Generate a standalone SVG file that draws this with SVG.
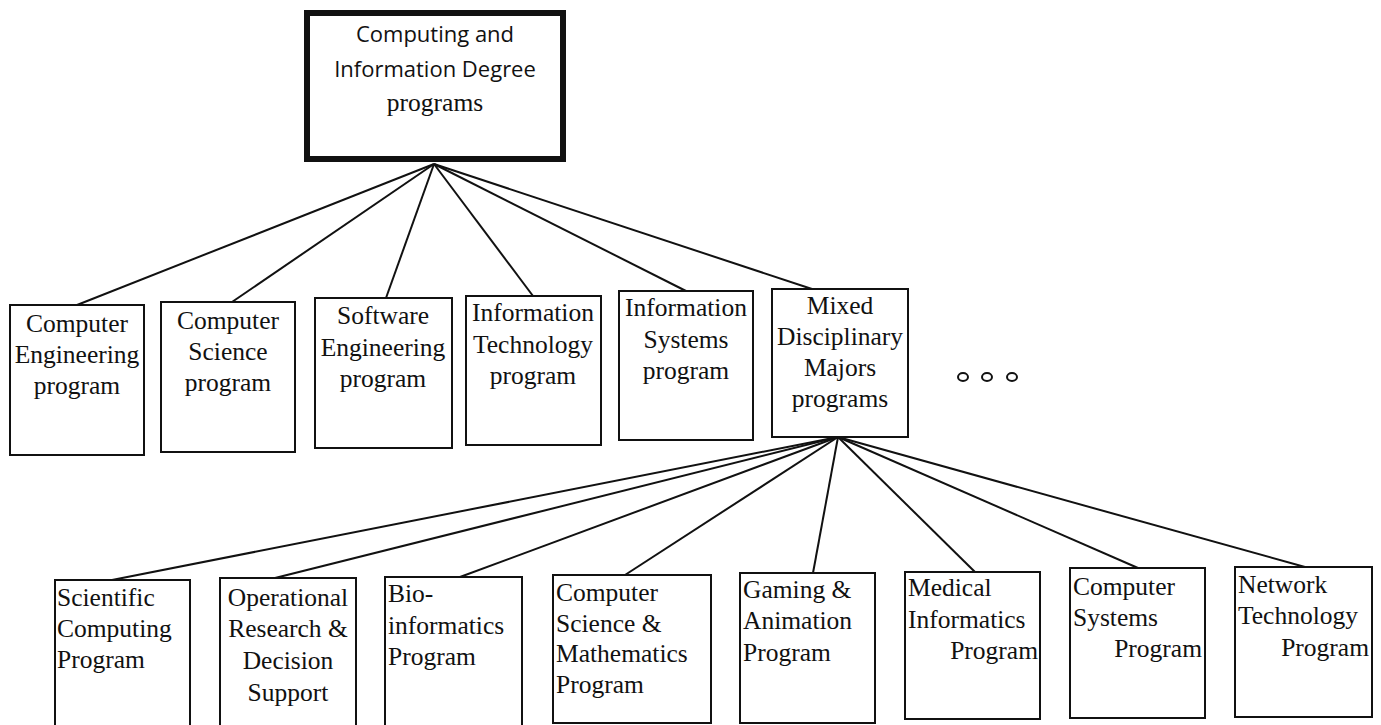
<svg xmlns="http://www.w3.org/2000/svg" width="1381" height="725" viewBox="0 0 1381 725">
<style>
.box{fill:#fff;stroke:#111;stroke-width:2}
.top{fill:#fff;stroke:#111;stroke-width:6}
.t{font-family:"Liberation Serif",serif;font-size:25.5px;fill:#111}
.c{text-anchor:middle}
.r{text-anchor:end}
.s{font-family:"Open Sans","Liberation Sans",sans-serif;font-size:22px;fill:#111;text-anchor:middle}
.ln{stroke:#111;stroke-width:2;fill:none}
.dot{fill:#fff;stroke:#111;stroke-width:2}
</style>
<g id="connectors">
<line class="ln" x1="434" y1="164" x2="77" y2="305"/>
<line class="ln" x1="434" y1="164" x2="232" y2="302"/>
<line class="ln" x1="434" y1="164" x2="386" y2="298"/>
<line class="ln" x1="434" y1="164" x2="533" y2="296"/>
<line class="ln" x1="434" y1="164" x2="686" y2="291"/>
<line class="ln" x1="434" y1="164" x2="812" y2="289"/>
<line class="ln" x1="838" y1="437" x2="112" y2="580"/>
<line class="ln" x1="838" y1="437" x2="275" y2="578"/>
<line class="ln" x1="838" y1="437" x2="460" y2="577"/>
<line class="ln" x1="838" y1="437" x2="625" y2="575"/>
<line class="ln" x1="838" y1="437" x2="813" y2="573"/>
<line class="ln" x1="838" y1="437" x2="975" y2="572"/>
<line class="ln" x1="838" y1="437" x2="1138" y2="568"/>
<line class="ln" x1="838" y1="437" x2="1305" y2="567"/>
</g>
<g id="root">
<rect class="top" x="307" y="13" width="256" height="146"/>
<text class="s" x="435" y="42">Computing and</text>
<text class="s" x="435" y="77">Information Degree</text>
<text class="t c" x="435" y="111">programs</text>
</g>
<g id="ce">
<rect class="box" x="10" y="305" width="134" height="150"/>
<text class="t c" x="77" y="332">Computer</text>
<text class="t c" x="77" y="363">Engineering</text>
<text class="t c" x="77" y="394">program</text>
</g>
<g id="cs">
<rect class="box" x="161" y="302" width="134" height="150"/>
<text class="t c" x="228" y="329">Computer</text>
<text class="t c" x="228" y="360">Science</text>
<text class="t c" x="228" y="391">program</text>
</g>
<g id="se">
<rect class="box" x="315" y="298" width="137" height="150"/>
<text class="t c" x="383" y="324">Software</text>
<text class="t c" x="383" y="356">Engineering</text>
<text class="t c" x="383" y="387">program</text>
</g>
<g id="it">
<rect class="box" x="466" y="296" width="135" height="149"/>
<text class="t c" x="533" y="321">Information</text>
<text class="t c" x="533" y="353">Technology</text>
<text class="t c" x="533" y="384">program</text>
</g>
<g id="is">
<rect class="box" x="619" y="291" width="134" height="149"/>
<text class="t c" x="686" y="316">Information</text>
<text class="t c" x="686" y="348">Systems</text>
<text class="t c" x="686" y="379">program</text>
</g>
<g id="mixed">
<rect class="box" x="772" y="289" width="136" height="148"/>
<text class="t c" x="840" y="314">Mixed</text>
<text class="t c" x="840" y="345">Disciplinary</text>
<text class="t c" x="840" y="376">Majors</text>
<text class="t c" x="840" y="407">programs</text>
</g>
<g id="ellipsis">
<ellipse class="dot" cx="963" cy="377" rx="5" ry="4"/>
<ellipse class="dot" cx="987" cy="377" rx="5" ry="4"/>
<ellipse class="dot" cx="1012" cy="377" rx="5" ry="4"/>
</g>
<g id="sci">
<rect class="box" x="55" y="580" width="135" height="150"/>
<text class="t" x="57" y="606">Scientific</text>
<text class="t" x="57" y="637">Computing</text>
<text class="t" x="57" y="668">Program</text>
</g>
<g id="ops">
<rect class="box" x="220" y="578" width="136" height="152"/>
<text class="t c" x="288" y="606">Operational</text>
<text class="t c" x="288" y="637">Research &amp;</text>
<text class="t c" x="288" y="669">Decision</text>
<text class="t c" x="288" y="701">Support</text>
</g>
<g id="bio">
<rect class="box" x="385" y="577" width="137" height="153"/>
<text class="t" x="388" y="602">Bio-</text>
<text class="t" x="388" y="634">informatics</text>
<text class="t" x="388" y="665">Program</text>
</g>
<g id="csm">
<rect class="box" x="553" y="575" width="158" height="148"/>
<text class="t" x="556" y="601">Computer</text>
<text class="t" x="556" y="632">Science &amp;</text>
<text class="t" x="556" y="662">Mathematics</text>
<text class="t" x="556" y="693">Program</text>
</g>
<g id="game">
<rect class="box" x="740" y="573" width="135" height="150"/>
<text class="t" x="743" y="598">Gaming &amp;</text>
<text class="t" x="743" y="629">Animation</text>
<text class="t" x="743" y="661">Program</text>
</g>
<g id="med">
<rect class="box" x="905" y="572" width="135" height="147"/>
<text class="t" x="908" y="596">Medical</text>
<text class="t" x="908" y="628">Informatics</text>
<text class="t r" x="1038" y="659">Program</text>
</g>
<g id="csys">
<rect class="box" x="1070" y="568" width="135" height="150"/>
<text class="t" x="1073" y="595">Computer</text>
<text class="t" x="1073" y="626">Systems</text>
<text class="t r" x="1202" y="657">Program</text>
</g>
<g id="net">
<rect class="box" x="1235" y="567" width="137" height="150"/>
<text class="t" x="1238" y="593">Network</text>
<text class="t" x="1238" y="624">Technology</text>
<text class="t r" x="1369" y="656">Program</text>
</g>
</svg>
